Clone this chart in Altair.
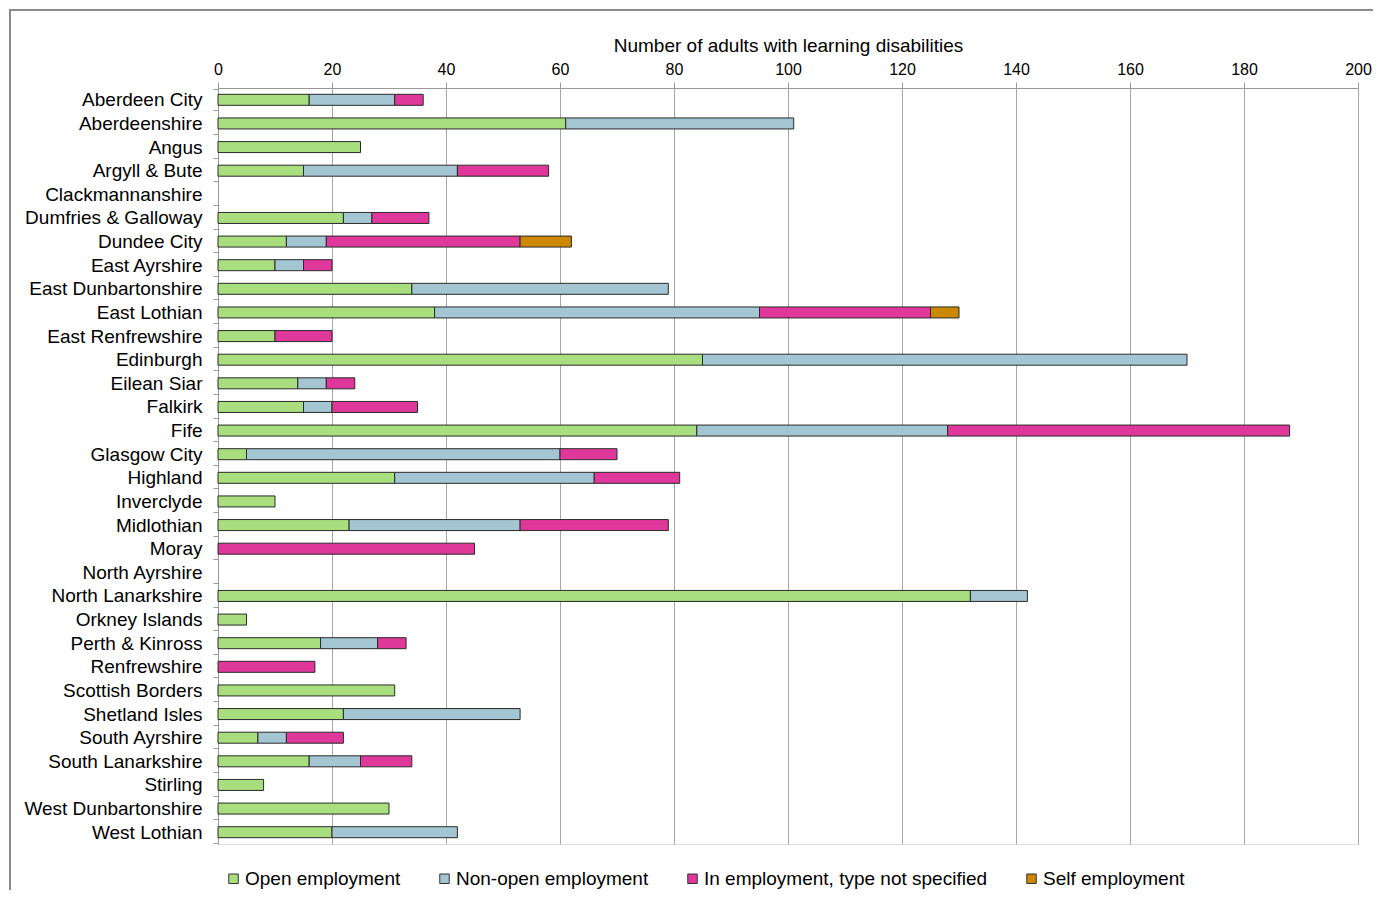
import altair as alt
import pandas as pd

areas = ["Aberdeen City", "Aberdeenshire", "Angus", "Argyll & Bute", "Clackmannanshire",
         "Dumfries & Galloway", "Dundee City", "East Ayrshire", "East Dunbartonshire",
         "East Lothian", "East Renfrewshire", "Edinburgh", "Eilean Siar", "Falkirk", "Fife",
         "Glasgow City", "Highland", "Inverclyde", "Midlothian", "Moray", "North Ayrshire",
         "North Lanarkshire", "Orkney Islands", "Perth & Kinross", "Renfrewshire",
         "Scottish Borders", "Shetland Isles", "South Ayrshire", "South Lanarkshire",
         "Stirling", "West Dunbartonshire", "West Lothian"]

open_emp = [16, 61, 25, 15, 0, 22, 12, 10, 34, 38, 10, 85, 14, 15, 84, 5, 31, 10, 23, 0, 0,
            132, 5, 18, 0, 31, 22, 7, 16, 8, 30, 20]
non_open = [15, 40, 0, 27, 0, 5, 7, 5, 45, 57, 0, 85, 5, 5, 44, 55, 35, 0, 30, 0, 0,
            10, 0, 10, 0, 0, 31, 5, 9, 0, 0, 22]
not_spec = [5, 0, 0, 16, 0, 10, 34, 5, 0, 30, 10, 0, 5, 15, 60, 10, 15, 0, 26, 45, 0,
            0, 0, 5, 17, 0, 0, 10, 9, 0, 0, 0]
self_emp = [0, 0, 0, 0, 0, 0, 9, 0, 0, 5, 0, 0, 0, 0, 0, 0, 0, 0, 0, 0, 0,
            0, 0, 0, 0, 0, 0, 0, 0, 0, 0, 0]

series = ["Open employment", "Non-open employment", "In employment, type not specified", "Self employment"]
colors = ["#A9DE7E", "#A3C6D2", "#E0379A", "#CC8800"]

rows = []
for i, a in enumerate(areas):
    for k, vals in enumerate([open_emp, non_open, not_spec, self_emp]):
        if vals[i] > 0:
            rows.append({"area": a, "type": series[k], "value": vals[i], "ord": k})
df = pd.DataFrame(rows)

FONT = "Liberation Sans"

bars = alt.Chart(df).mark_bar(size=11, stroke="#2a2a2a", strokeWidth=1).encode(
    y=alt.Y("area:N", sort=areas, title=None,
            scale=alt.Scale(domain=areas),
            axis=alt.Axis(labelFontSize=19, labelFont=FONT, labelColor="#000",
                          tickBand="extent", tickSize=5, tickColor="#999",
                          domainColor="#999", labelPadding=11, grid=False)),
    x=alt.X("value:Q", stack="zero", title="Number  of adults with learning disabilities",
            scale=alt.Scale(domain=[0, 200], nice=False),
            axis=alt.Axis(orient="top", values=list(range(0, 201, 20)), labelFontSize=16,
                          labelFont=FONT, labelColor="#000", titleFontSize=19,
                          titleFont=FONT, titleFontWeight="normal", titleColor="#000",
                          titlePadding=6, tickSize=6, tickColor="#999", domainColor="#999",
                          gridColor="#A6A6A6", labelPadding=5, labelFlush=False)),
    color=alt.Color("type:N", scale=alt.Scale(domain=series, range=colors),
                    legend=alt.Legend(title=None, orient="none", legendX=6, legendY=781,
                                      direction="horizontal", columns=4, symbolType="square",
                                      symbolSize=90, symbolStrokeColor="#333",
                                      symbolStrokeWidth=1, labelFontSize=19, labelFont=FONT,
                                      labelColor="#000", columnPadding=34, labelOffset=2,
                                      labelLimit=0)),
    order=alt.Order("ord:Q"),
)

frame = alt.Chart(pd.DataFrame({"a": [0]})).mark_rect(
    fill=None, stroke="#8a8a8a", strokeWidth=2, clip=False
).encode(x=alt.value(-208), y=alt.value(-78), x2=alt.value(1200), y2=alt.value(900))

chart = alt.layer(frame, bars).properties(
    width=1140, height=756,
    padding={"left": 210, "top": 80, "right": 15, "bottom": 46},
    autosize=alt.AutoSizeParams(type="none"),
).configure_view(stroke="#444", strokeWidth=1.2).configure(background="white")

chart.save("out.html", embed_options={"renderer": "svg", "actions": False})
